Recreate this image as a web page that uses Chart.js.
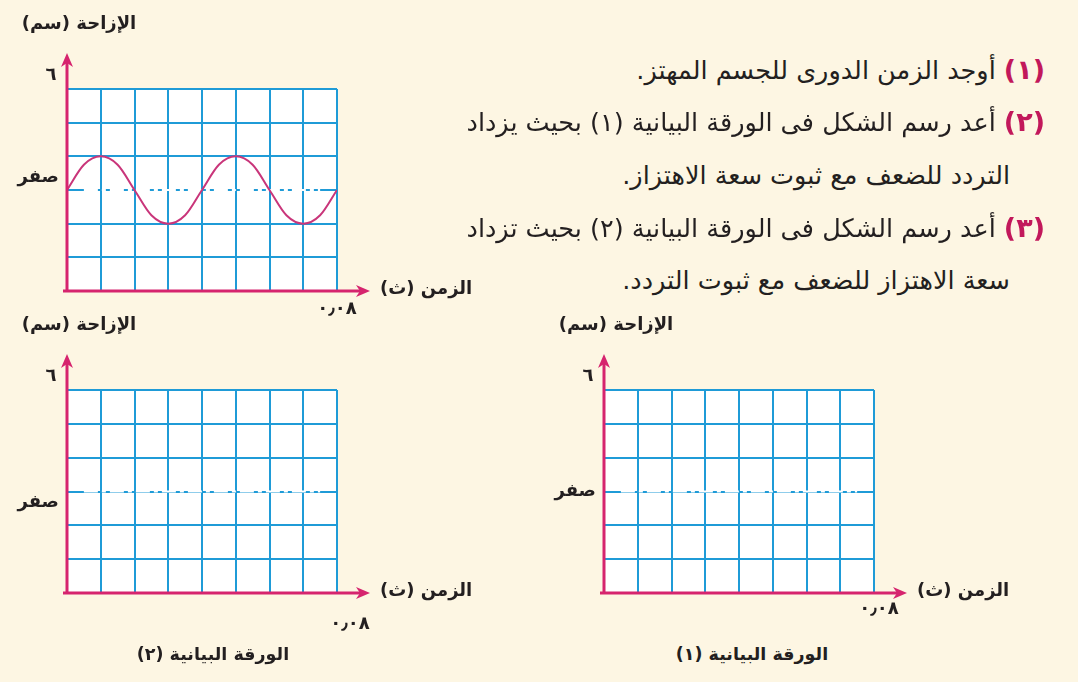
<!DOCTYPE html>
<html lang="ar">
<head>
<meta charset="utf-8">
<script src="https://cdn.jsdelivr.net/npm/chart.js@4/dist/chart.umd.min.js"></script>
<style>
  body { margin: 0; background: #fdf6e3; width: 1078px; height: 682px; overflow: hidden; position: relative; font-family: "DejaVu Sans", sans-serif; }
  canvas { position: absolute; }
  .line { position: absolute; white-space: nowrap; font-size: 25.5px; line-height: 30px; color: #231f20; direction: rtl; }
  .num { color: #c2185b; font-weight: bold; font-size: 27px; }
  .cap { position: absolute; font-weight: bold; font-size: 17.5px; color: #231f20; direction: rtl; white-space: nowrap; transform: translateX(-50%); }
</style>
</head>
<body>
<canvas id="sheetTop" width="480" height="330" style="left:0;top:0"></canvas>
<canvas id="sheetTwo" width="480" height="330" style="left:0;top:310px"></canvas>
<canvas id="sheetOne" width="538" height="330" style="left:540px;top:310px"></canvas>
<div id="text"></div>
<script>
// axis ranges (grid squares)
const timeMin = 0, timeMax = 8;
const dispMin = -3, dispMax = 3;

// the vibration drawn on the first sheet, read at every half square
const waveTime = [0, 0.5, 1, 1.5, 2, 2.5, 3, 3.5, 4, 4.5, 5, 5.5, 6, 6.5, 7, 7.5, 8];
const waveDisp = [0, 0.75, 1, 0.75, 0, -0.75, -1, -0.75, 0, 0.75, 1, 0.75, 0, -0.75, -1, -0.75, 0];

// dashed rest line
const restTime = [0.5, 7.5];
const restDisp = [0, 0];

// labels
const yTitle = 'الإزاحة (سم)';
const xTitle = 'الزمن (ث)';
const yTopLabel = '٦';
const yZeroLabel = 'صفر';
const xEndLabel = '٠٫٠٨';
const captions = ['الورقة البيانية (٢)', 'الورقة البيانية (١)'];
const questions = [
  ['(١)', 'أوجد الزمن الدورى للجسم المهتز.'],
  ['(٢)', 'أعد رسم الشكل فى الورقة البيانية (١) بحيث يزداد'],
  ['', 'التردد للضعف مع ثبوت سعة الاهتزاز.'],
  ['(٣)', 'أعد رسم الشكل فى الورقة البيانية (٢) بحيث تزداد'],
  ['', 'سعة الاهتزاز للضعف مع ثبوت التردد.']
];

const blue = '#1f9bd7';
const magenta = '#d6246e';
const ink = '#231f20';

const paperPlugin = {
  id: 'paper',
  beforeDraw(chart) {
    const a = chart.chartArea;
    const ctx = chart.ctx;
    ctx.save();
    ctx.fillStyle = '#ffffff';
    ctx.fillRect(a.left, a.top, a.right - a.left, a.bottom - a.top);
    ctx.restore();
  },
  afterDraw(chart) {
    const ctx = chart.ctx;
    const x = chart.scales.x, y = chart.scales.y;
    const left = x.getPixelForValue(timeMin), right = x.getPixelForValue(timeMax);
    const top = y.getPixelForValue(dispMax), bottom = y.getPixelForValue(dispMin);
    const yTip = top - 36, xTip = right + 33;
    ctx.save();
    ctx.strokeStyle = magenta;
    ctx.fillStyle = magenta;
    ctx.lineWidth = 3;
    ctx.beginPath();
    ctx.moveTo(left, bottom + 1);
    ctx.lineTo(left, yTip + 8);
    ctx.moveTo(left - 4, bottom);
    ctx.lineTo(xTip - 8, bottom);
    ctx.stroke();
    // arrow heads
    ctx.beginPath();
    ctx.moveTo(left, yTip);
    ctx.lineTo(left - 6, yTip + 14);
    ctx.lineTo(left, yTip + 10);
    ctx.lineTo(left + 6, yTip + 14);
    ctx.closePath();
    ctx.fill();
    ctx.beginPath();
    ctx.moveTo(xTip, bottom);
    ctx.lineTo(xTip - 14, bottom - 6);
    ctx.lineTo(xTip - 10, bottom);
    ctx.lineTo(xTip - 14, bottom + 6);
    ctx.closePath();
    ctx.fill();
    // titles
    ctx.fillStyle = ink;
    ctx.direction = 'rtl';
    ctx.textBaseline = 'middle';
    ctx.font = 'bold 18px "DejaVu Sans"';
    ctx.textAlign = 'center';
    ctx.fillText(yTitle, left + 12, top - 65);
    ctx.fillText(yTopLabel, left - 16, top - 14);
    ctx.textAlign = 'left';
    ctx.fillText(xTitle, xTip + 10, bottom - 2);
    ctx.restore();
  }
};

function makeSheet(id, withWave, shift) {
  const datasets = [];
  if (withWave) {
    datasets.push({
      data: waveTime.map((t, i) => ({ x: t, y: waveDisp[i] })),
      borderColor: '#c9357a',
      borderWidth: 2,
      pointRadius: 0,
      cubicInterpolationMode: 'monotone'
    });
  }
  datasets.push({
    data: restTime.map((t, i) => ({ x: t, y: restDisp[i] })),
    borderColor: '#ffffff',
    borderWidth: 2,
    borderDash: [14, 4, 4, 4],
    pointRadius: 0
  });
  return new Chart(document.getElementById(id), {
    type: 'line',
    data: { datasets },
    plugins: [paperPlugin],
    options: {
      responsive: false,
      animation: false,
      layout: { padding: { top: shift.top, right: shift.right, left: 0, bottom: 0 } },
      plugins: { legend: { display: false }, tooltip: { enabled: false } },
      scales: {
        x: {
          type: 'linear', min: timeMin, max: timeMax,
          afterFit: s => { s.height = shift.xHeight; },
          grid: { color: blue, lineWidth: 2, drawTicks: false },
          border: { display: false },
          ticks: {
            stepSize: 1, autoSkip: false, maxRotation: 0,
            padding: shift.endPad, labelOffset: shift.endShift,
            color: ink, font: { family: 'DejaVu Sans', size: 18, weight: 'bold' },
            callback: v => v === timeMax ? xEndLabel : ''
          }
        },
        y: {
          min: dispMin, max: dispMax,
          afterFit: s => { s.width = shift.yWidth; },
          grid: { color: blue, lineWidth: 2, drawTicks: false },
          border: { display: false },
          ticks: {
            stepSize: 1, autoSkip: false, padding: 8, labelOffset: shift.zeroShift,
            color: ink, font: { family: 'DejaVu Sans', size: 18, weight: 'bold' },
            callback: v => v === 0 ? yZeroLabel : ''
          }
        }
      }
    }
  });
}

makeSheet('sheetTop', true, { top: 89, right: 143, xHeight: 39, yWidth: 67, endPad: 8, endShift: 0, zeroShift: -13 });
makeSheet('sheetTwo', false, { top: 80, right: 143, xHeight: 47, yWidth: 67, endPad: 21, endShift: 13, zeroShift: 11 });
makeSheet('sheetOne', false, { top: 80, right: 204, xHeight: 47, yWidth: 64, endPad: 6, endShift: 5, zeroShift: 0 });

// question text on the right
const text = document.getElementById('text');
const lineCenters = [70, 122, 175, 228, 280];
questions.forEach((q, i) => {
  const d = document.createElement('div');
  d.className = 'line';
  d.style.top = (lineCenters[i] - 15) + 'px';
  d.style.right = (q[0] ? 33 : 68) + 'px';
  d.innerHTML = (q[0] ? '<span class="num">' + q[0] + '</span> ' : '') + q[1];
  text.appendChild(d);
});
[[213, captions[0]], [752, captions[1]]].forEach(c => {
  const d = document.createElement('div');
  d.className = 'cap';
  d.style.left = c[0] + 'px';
  d.style.top = '644px';
  d.textContent = c[1];
  text.appendChild(d);
});
</script>
</body>
</html>
